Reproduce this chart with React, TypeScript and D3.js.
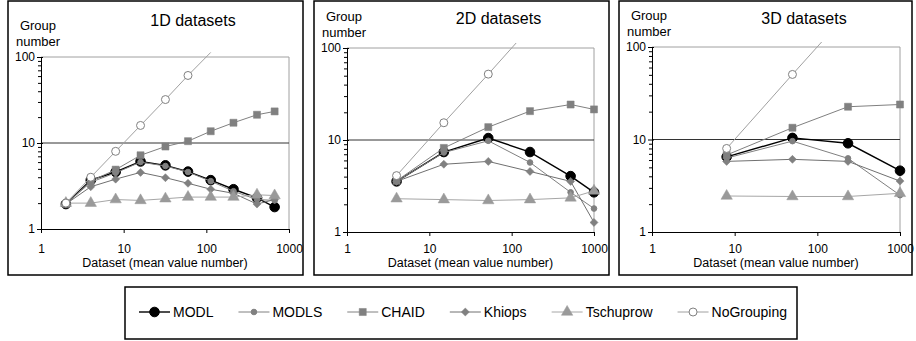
import React, { useEffect, useRef } from "react"
import * as d3 from "d3"

const seriesNames = ['MODL', 'MODLS', 'CHAID', 'Khiops', 'Tschuprow', 'NoGrouping'];
const panelTitles = ['1D datasets', '2D datasets', '3D datasets'];
const xTicks = [1, 10, 100, 1000];
const yTicks = [1, 10, 100];

// 1D datasets
const x1D = [2, 4, 8, 16, 32, 60, 113, 213, 410, 670];
const modl1D = [1.95, 3.7, 4.6, 6.1, 5.5, 4.65, 3.7, 2.9, 2.3, 1.8];
const modls1D = [1.95, 3.5, 4.5, 6.0, 5.4, 4.6, 3.6, 2.75, 2.2, 2.15];
const chaid1D = [1.95, 3.6, 4.9, 7.2, 9.1, 10.5, 13.7, 17.2, 21.3, 23.3];
const khiops1D = [1.95, 3.1, 3.8, 4.55, 3.95, 3.4, 2.9, 2.6, 1.95, 2.2];
const tschuprow1D = [2.0, 2.0, 2.2, 2.15, 2.25, 2.35, 2.35, 2.35, 2.5, 2.45];
const noGrouping1D = [2, 4, 8, 16, 32, 61, 113, null, null, null];

// 2D datasets
const x2D = [4, 15, 52, 167, 520, 1000];
const modl2D = [3.55, 7.4, 10.5, 7.4, 4.05, 2.7];
const modls2D = [3.55, 7.3, 9.8, 5.7, 2.7, 1.8];
const chaid2D = [3.6, 8.2, 13.8, 20.6, 24.3, 21.5];
const khiops2D = [3.55, 5.45, 5.85, 4.55, 3.55, 1.27];
const tschuprow2D = [2.3, 2.25, 2.2, 2.25, 2.35, 2.8];
const noGrouping2D = [4.1, 15.4, 52, 167, null, null];

// 3D datasets
const x3D = [8, 50, 235, 1000];
const modl3D = [6.5, 10.4, 9.1, 4.6];
const modls3D = [6.3, 9.6, 6.25, 2.5];
const chaid3D = [6.8, 13.4, 22.6, 23.9];
const khiops3D = [5.8, 6.1, 5.8, 3.55];
const tschuprow3D = [2.45, 2.42, 2.42, 2.62];
const noGrouping3D = [8, 50.5, 235, null];

const panelX = [x1D, x2D, x3D];
const panelSeries = [
    [modl1D, modls1D, chaid1D, khiops1D, tschuprow1D, noGrouping1D],
    [modl2D, modls2D, chaid2D, khiops2D, tschuprow2D, noGrouping2D],
    [modl3D, modls3D, chaid3D, khiops3D, tschuprow3D, noGrouping3D],
];

const font = 'Liberation Sans, Arial, sans-serif';

// frame + plot area of each panel
const layout = [
    { box: [8, 1, 303, 275], plot: { left: 41, right: 289, top: 57, bottom: 229 }, titleY: 26 },
    { box: [314, 1, 609, 275], plot: { left: 347, right: 594, top: 48, bottom: 232 }, titleY: 24 },
    { box: [619, 1, 912, 275], plot: { left: 652, right: 900, top: 47, bottom: 232 }, titleY: 24 },
];

const styles = {
    MODL: { stroke: '#000', width: 1.4, marker: 'circle', r: 4.8, fill: '#000', mstroke: '#000' },
    MODLS: { stroke: '#808080', width: 1, marker: 'circle', r: 2.8, fill: '#808080', mstroke: '#808080' },
    CHAID: { stroke: '#808080', width: 1, marker: 'square', r: 0, fill: '#808080', mstroke: '#808080' },
    Khiops: { stroke: '#707070', width: 1, marker: 'diamond', r: 0, fill: '#808080', mstroke: '#808080' },
    Tschuprow: { stroke: '#a6a6a6', width: 1, marker: 'triangle', r: 0, fill: '#9a9a9a', mstroke: '#9a9a9a' },
    NoGrouping: { stroke: '#a0a0a0', width: 1, marker: 'circle', r: 4, fill: '#fff', mstroke: '#808080' },
};

const symbolPath = {
    square: d3.symbol(d3.symbolSquare, 50)(),
    diamond: d3.symbol(d3.symbolSquare, 32)(),
    triangle: d3.symbol(d3.symbolTriangle, 56)(),
};

const drawMarker = (g, name, x, y) => {
    const s = styles[name];
    if (s.marker === 'circle') {
        g.append('circle')
            .attr('cx', x).attr('cy', y).attr('r', s.r)
            .attr('fill', s.fill).attr('stroke', s.mstroke).attr('stroke-width', 1)
    } else {
        const rot = s.marker === 'diamond' ? ' rotate(45)' : '';
        g.append('path')
            .attr('d', symbolPath[s.marker])
            .attr('transform', `translate(${x},${y})${rot}`)
            .attr('fill', s.fill).attr('stroke', s.mstroke).attr('stroke-width', 0.5)
    }
}

const Chart = () => {
    const ref = useRef(null);

    useEffect(() => {
        const svg = d3.select(ref.current);
        svg.selectAll('*').remove();

        layout.forEach((lay, pi) => {
            const { left, right, top, bottom } = lay.plot;
            const [bx0, by0, bx1, by1] = lay.box;
            const g = svg.append('g');

            g.append('rect')
                .attr('x', bx0).attr('y', by0)
                .attr('width', bx1 - bx0).attr('height', by1 - by0)
                .attr('fill', '#fff').attr('stroke', '#000').attr('stroke-width', 1.5)

            const xScale = d3.scaleLog().domain([1, 1000]).range([left, right]);
            const yScale = d3.scaleLog().domain([1, 100]).range([bottom, top]);

            // plot area border (gray) and the 10 gridline
            g.append('path')
                .attr('d', `M${left},${top}H${right}V${bottom}`)
                .attr('fill', 'none').attr('stroke', '#a0a0a0').attr('stroke-width', 1)
            g.append('line')
                .attr('x1', left).attr('x2', right)
                .attr('y1', yScale(10)).attr('y2', yScale(10))
                .attr('stroke', '#333').attr('stroke-width', 1)

            // y axis
            const yAxisG = g.append('g')
                .attr('transform', `translate(${left},0)`)
                .call(d3.axisLeft(yScale).tickValues(yTicks).tickFormat(d3.format('d')).tickSize(4).tickPadding(2))
            yAxisG.select('.domain').attr('stroke', '#000')
            yAxisG.selectAll('text').attr('font-size', 12).attr('font-family', font).attr('fill', '#000')
            yAxisG.selectAll('line').attr('x2', -4).attr('x1', 2)
            const minor = [2, 3, 4, 5, 6, 7, 8, 9, 20, 30, 40, 50, 60, 70, 80, 90];
            const yMinorG = g.append('g')
                .attr('transform', `translate(${left},0)`)
                .call(d3.axisLeft(yScale).tickValues(minor).tickFormat('').tickSize(3))
            yMinorG.select('.domain').remove()

            // x axis
            const xAxisG = g.append('g')
                .attr('transform', `translate(0,${bottom})`)
                .call(d3.axisBottom(xScale).tickValues(xTicks).tickFormat(d3.format('d')).tickSize(4).tickPadding(0))
            xAxisG.select('.domain').attr('stroke', '#000')
            xAxisG.selectAll('text')
                .attr('font-size', 12).attr('font-family', font).attr('fill', '#000')
                .attr('y', 0).attr('dy', 0)
                .attr('transform', `translate(0,${253 - bottom})`)

            g.append('text')
                .attr('x', (left + right) / 2).attr('y', 267)
                .attr('text-anchor', 'middle')
                .attr('font-size', 12.5).attr('font-family', font)
                .text('Dataset (mean value number)')

            // titles
            g.append('text')
                .attr('x', (left + right) / 2 + 28).attr('y', lay.titleY)
                .attr('text-anchor', 'middle')
                .attr('font-size', 16).attr('font-family', font)
                .text(panelTitles[pi])
            g.append('text')
                .attr('x', left - 3).attr('y', top - 27)
                .attr('text-anchor', 'middle')
                .attr('font-size', 13).attr('font-family', font)
                .text('Group')
            g.append('text')
                .attr('x', left - 3).attr('y', top - 11)
                .attr('text-anchor', 'middle')
                .attr('font-size', 13).attr('font-family', font)
                .text('number')

            // series
            const clipId = `clip${pi}`;
            svg.append('clipPath').attr('id', clipId)
                .append('rect')
                .attr('x', left - 10).attr('y', top - 5)
                .attr('width', right - left + 20).attr('height', bottom - top + 15)

            const xs = panelX[pi];
            const dataG = g.append('g').attr('clip-path', `url(#${clipId})`);
            seriesNames.forEach((name, si) => {
                const vals = panelSeries[pi][si];
                const pts = xs.map((x, i) => ({ x, y: vals[i] })).filter(d => d.y != null);
                const s = styles[name];
                const line = d3.line().x(d => xScale(d.x)).y(d => yScale(d.y));
                dataG.append('path')
                    .attr('d', line(pts))
                    .attr('fill', 'none').attr('stroke', s.stroke).attr('stroke-width', s.width)
                pts.filter(d => d.y <= 100).forEach(d => drawMarker(dataG, name, xScale(d.x), yScale(d.y)))
            })
        })

        // legend
        const lg = svg.append('g');
        lg.append('rect')
            .attr('x', 125).attr('y', 287).attr('width', 672).attr('height', 52)
            .attr('fill', '#fff').attr('stroke', '#000').attr('stroke-width', 1.5)
        let cx = 139;
        const ly = 312;
        seriesNames.forEach(name => {
            const s = styles[name];
            lg.append('line')
                .attr('x1', cx).attr('x2', cx + 31).attr('y1', ly).attr('y2', ly)
                .attr('stroke', s.stroke).attr('stroke-width', s.width)
            drawMarker(lg, name, cx + 15.5, ly)
            const t = lg.append('text')
                .attr('x', cx + 34).attr('y', ly + 5)
                .attr('font-size', 14).attr('font-family', font)
                .text(name)
            cx += 34 + t.node().getComputedTextLength() + 25;
        })
    }, []);

    return (
        <svg ref={ref} width={916} height={341}
            style={{ position: 'absolute', left: 0, top: 0, background: '#fff' }} />
    )
}

export default function App() {
    return <Chart />
}
